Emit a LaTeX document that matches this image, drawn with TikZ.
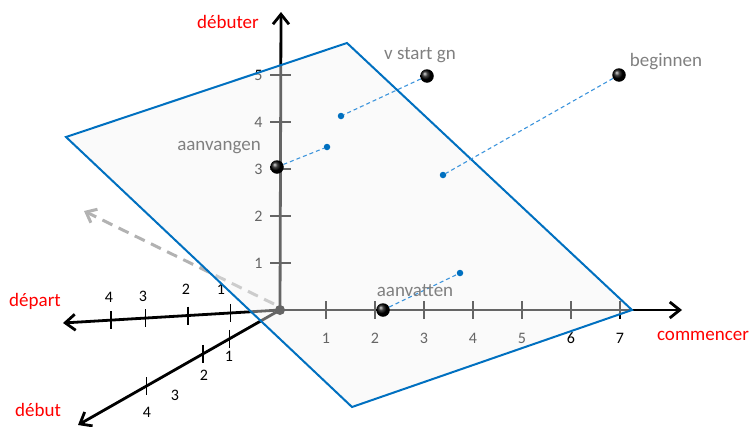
\documentclass[tikz,border=0pt]{standalone}
\usepackage{fontspec}
\setmainfont{Carlito}
\usetikzlibrary{arrows.meta, calc}
\definecolor{planeBlue}{RGB}{0, 112, 192}
\definecolor{linkBlue}{RGB}{60, 148, 220}
\definecolor{wordGray}{RGB}{128, 128, 128}

\begin{document}
\begin{tikzpicture}[x=1pt, y=-1pt,
    axis/.style={line width=2.8pt, -{Straight Barb[length=10pt, width=16pt]}},
    tickmark/.style={line width=1.1pt},
    num/.style={font=\fontsize{16}{19}\selectfont, inner sep=0pt},
    word/.style={text=wordGray, font=\fontsize{19}{22}\selectfont, inner sep=0pt},
    axislabel/.style={text=red, font=\fontsize{19}{22}\selectfont, inner sep=0pt},
    worddot/.style={circle, inner sep=0pt, minimum size=13.5pt, ball color=black},
    planedot/.style={circle, inner sep=0pt, minimum size=6.5pt, fill=planeBlue},
    link/.style={linkBlue, line width=1.1pt, dash pattern=on 4pt off 3pt}]
        \useasboundingbox (0,0) rectangle (750,426);

        % Axes
        \coordinate (O) at (280,310);
        \coordinate (Y) at (281,12);
        \coordinate (X) at (682,310);
        \coordinate (P) at (63,323);
        \coordinate (Q) at (78,425);
        \coordinate (G) at (84,211);
        \coordinate (G0) at (274,304);

        \draw[line width=3pt, black!30, dash pattern=on 11pt off 7pt,
              -{Straight Barb[length=9pt, width=15pt]}] (G0) -- (G);
        \draw[axis] (O) -- (Y);
        \draw[axis] (O) -- (X);
        \draw[axis] (O) -- (P);
        \draw[axis] (O) -- (Q);

        \foreach \k in {1,...,5}
          \draw[tickmark] (270,310-47*\k) -- (291,310-47*\k)
            node[num, anchor=east] at (263,310-47*\k) {\k};
        \foreach \k in {1,...,7}
          \draw[tickmark] (277+49*\k,301) -- (277+49*\k,319)
            node[num] at (277+49*\k,338) {\k};
        \foreach \t in {0.23,0.424,0.618,0.779}
          \draw[tickmark] ($(O)!\t!(P)$) +(0,-9) -- +(0,9);
        \foreach \t in {0.252,0.381,0.663}
          \draw[tickmark] ($(O)!\t!(Q)$) +(0,-9) -- +(0,9);
        \node[num] (p1) at (221,289) {1};
        \node[num] (p2) at (186,289) {2};
        \node[num] (p3) at (143,296) {3};
        \node[num] (p4) at (109,297) {4};
        \node[num] (q1) at (229,356) {1};
        \node[num] (q2) at (204,375) {2};
        \node[num] (q3) at (175,395) {3};
        \node[num] (q4) at (147,412) {4};
        \fill (O) circle (5pt);

        % Plane
        \filldraw[planeBlue, line width=2pt, fill=black!5, fill opacity=0.42]
          (66,137) -- (347,43) -- (632,310) -- (352,407) -- cycle;

        % Words and their projections
        \node[worddot] (vstart) at (427,76) {};
        \node[worddot] (beginnen) at (619,75) {};
        \node[worddot] (aanvangen) at (277,167) {};
        \node[worddot] (aanvatten) at (383,310) {};
        \node[planedot] (vstartP) at (341,116) {};
        \node[planedot] (beginnenP) at (443,175) {};
        \node[planedot] (aanvangenP) at (327,147) {};
        \node[planedot] (aanvattenP) at (460,273) {};
        \foreach \w in {vstart,beginnen,aanvangen,aanvatten}
          \draw[link] (\w) -- (\w P);

        \node[word] (vstartL) at (420,55) {v start gn};
        \node[word] (beginnenL) at (666,62) {beginnen};
        \node[word] (aanvangenL) at (219,148) {aanvangen};
        \node[word] (aanvattenL) at (415,291) {aanvatten};

        \node[axislabel] (lblY) at (228,22) {débuter};
        \node[axislabel] (lblX) at (703,336) {commencer};
        \node[axislabel] (lblP) at (35,301) {départ};
        \node[axislabel] (lblQ) at (38,410) {début};
      \end{tikzpicture}
\end{document}
